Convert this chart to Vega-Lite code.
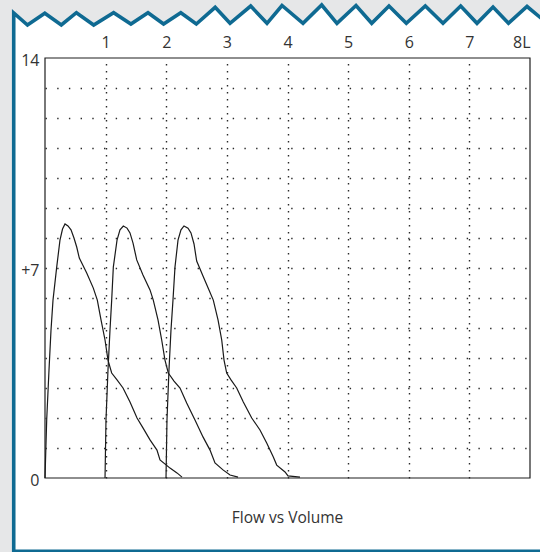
{
  "$schema": "https://vega.github.io/schema/vega-lite/v6.json",
  "width": 485,
  "height": 420,
  "autosize": {"type": "none"},
  "padding": {"left": 45, "top": 58, "right": 10, "bottom": 74},
  "background": "#e6e7e8",
  "config": {"view": {"stroke": null}},
  "datasets": {
    "frame": [
      {"i": 0, "v": 8.2, "f": -2.44},
      {"i": 1, "v": -0.516, "f": -2.44},
      {"i": 2, "v": -0.516, "f": 15.5},
      {"i": 3, "v": -0.289, "f": 15.1},
      {"i": 4, "v": -0.003, "f": 15.49},
      {"i": 5, "v": 0.269, "f": 15.1},
      {"i": 6, "v": 0.518, "f": 15.51},
      {"i": 7, "v": 0.803, "f": 15.1},
      {"i": 8, "v": 1.132, "f": 15.51},
      {"i": 9, "v": 1.417, "f": 15.133},
      {"i": 10, "v": 1.699, "f": 15.51},
      {"i": 11, "v": 1.956, "f": 15.133},
      {"i": 12, "v": 2.24, "f": 15.51},
      {"i": 13, "v": 2.496, "f": 15.133},
      {"i": 14, "v": 2.807, "f": 15.69},
      {"i": 15, "v": 3.052, "f": 15.157},
      {"i": 16, "v": 3.393, "f": 15.733},
      {"i": 17, "v": 3.662, "f": 15.157},
      {"i": 18, "v": 3.909, "f": 15.75},
      {"i": 19, "v": 4.256, "f": 15.157},
      {"i": 20, "v": 4.564, "f": 15.767},
      {"i": 21, "v": 4.816, "f": 15.157},
      {"i": 22, "v": 5.13, "f": 15.75},
      {"i": 23, "v": 5.389, "f": 15.157},
      {"i": 24, "v": 5.674, "f": 15.733},
      {"i": 25, "v": 5.96, "f": 15.157},
      {"i": 26, "v": 6.273, "f": 15.733},
      {"i": 27, "v": 6.565, "f": 15.157},
      {"i": 28, "v": 6.857, "f": 15.733},
      {"i": 29, "v": 7.126, "f": 15.157},
      {"i": 30, "v": 7.39, "f": 15.7},
      {"i": 31, "v": 7.645, "f": 15.157},
      {"i": 32, "v": 7.951, "f": 15.717},
      {"i": 33, "v": 8.2, "f": 15.3}
    ],
    "flow": [
      {"s": "A", "v": 0, "f": 0},
      {"s": "A", "v": 0.028, "f": 1.93},
      {"s": "A", "v": 0.066, "f": 3.6},
      {"s": "A", "v": 0.099, "f": 4.93},
      {"s": "A", "v": 0.132, "f": 5.93},
      {"s": "A", "v": 0.193, "f": 7.03},
      {"s": "A", "v": 0.247, "f": 7.93},
      {"s": "A", "v": 0.289, "f": 8.3},
      {"s": "A", "v": 0.33, "f": 8.47},
      {"s": "A", "v": 0.379, "f": 8.4},
      {"s": "A", "v": 0.429, "f": 8.27},
      {"s": "A", "v": 0.478, "f": 8.0},
      {"s": "A", "v": 0.523, "f": 7.7},
      {"s": "A", "v": 0.566, "f": 7.33},
      {"s": "A", "v": 0.688, "f": 6.83},
      {"s": "A", "v": 0.797, "f": 6.33},
      {"s": "A", "v": 0.863, "f": 5.93},
      {"s": "A", "v": 0.924, "f": 5.27},
      {"s": "A", "v": 0.99, "f": 4.6},
      {"s": "A", "v": 1.039, "f": 3.93},
      {"s": "A", "v": 1.1, "f": 3.5},
      {"s": "A", "v": 1.188, "f": 3.27},
      {"s": "A", "v": 1.287, "f": 3.0},
      {"s": "A", "v": 1.402, "f": 2.53},
      {"s": "A", "v": 1.518, "f": 2.0},
      {"s": "A", "v": 1.616, "f": 1.67},
      {"s": "A", "v": 1.732, "f": 1.27},
      {"s": "A", "v": 1.847, "f": 0.93},
      {"s": "A", "v": 1.897, "f": 0.6},
      {"s": "A", "v": 2.062, "f": 0.33},
      {"s": "A", "v": 2.177, "f": 0.17},
      {"s": "A", "v": 2.26, "f": 0.03},
      {"s": "B", "v": 0.99, "f": 0},
      {"s": "B", "v": 1.006, "f": 1.93},
      {"s": "B", "v": 1.039, "f": 3.6},
      {"s": "B", "v": 1.072, "f": 4.93},
      {"s": "B", "v": 1.1, "f": 5.93},
      {"s": "B", "v": 1.127, "f": 7.03},
      {"s": "B", "v": 1.188, "f": 7.93},
      {"s": "B", "v": 1.237, "f": 8.27},
      {"s": "B", "v": 1.292, "f": 8.4},
      {"s": "B", "v": 1.353, "f": 8.33},
      {"s": "B", "v": 1.402, "f": 8.17},
      {"s": "B", "v": 1.452, "f": 7.83},
      {"s": "B", "v": 1.513, "f": 7.27},
      {"s": "B", "v": 1.616, "f": 6.77},
      {"s": "B", "v": 1.732, "f": 6.27},
      {"s": "B", "v": 1.786, "f": 5.93},
      {"s": "B", "v": 1.864, "f": 5.27},
      {"s": "B", "v": 1.925, "f": 4.6},
      {"s": "B", "v": 1.979, "f": 3.93},
      {"s": "B", "v": 2.034, "f": 3.5},
      {"s": "B", "v": 2.128, "f": 3.23},
      {"s": "B", "v": 2.227, "f": 3.0},
      {"s": "B", "v": 2.337, "f": 2.5},
      {"s": "B", "v": 2.474, "f": 1.93},
      {"s": "B", "v": 2.606, "f": 1.37},
      {"s": "B", "v": 2.722, "f": 0.93},
      {"s": "B", "v": 2.804, "f": 0.5},
      {"s": "B", "v": 2.936, "f": 0.27},
      {"s": "B", "v": 3.052, "f": 0.1},
      {"s": "B", "v": 3.184, "f": 0.03},
      {"s": "C", "v": 1.996, "f": 0},
      {"s": "C", "v": 2.012, "f": 1.93},
      {"s": "C", "v": 2.045, "f": 3.6},
      {"s": "C", "v": 2.078, "f": 4.93},
      {"s": "C", "v": 2.111, "f": 5.93},
      {"s": "C", "v": 2.144, "f": 7.03},
      {"s": "C", "v": 2.194, "f": 7.93},
      {"s": "C", "v": 2.243, "f": 8.27},
      {"s": "C", "v": 2.293, "f": 8.4},
      {"s": "C", "v": 2.359, "f": 8.33},
      {"s": "C", "v": 2.408, "f": 8.17},
      {"s": "C", "v": 2.458, "f": 7.8},
      {"s": "C", "v": 2.502, "f": 7.23},
      {"s": "C", "v": 2.606, "f": 6.73},
      {"s": "C", "v": 2.705, "f": 6.27},
      {"s": "C", "v": 2.776, "f": 5.93},
      {"s": "C", "v": 2.854, "f": 5.27},
      {"s": "C", "v": 2.915, "f": 4.6},
      {"s": "C", "v": 2.953, "f": 3.93},
      {"s": "C", "v": 2.997, "f": 3.5},
      {"s": "C", "v": 3.068, "f": 3.27},
      {"s": "C", "v": 3.162, "f": 3.0},
      {"s": "C", "v": 3.271, "f": 2.53},
      {"s": "C", "v": 3.41, "f": 2.0},
      {"s": "C", "v": 3.546, "f": 1.6},
      {"s": "C", "v": 3.657, "f": 1.17},
      {"s": "C", "v": 3.766, "f": 0.7},
      {"s": "C", "v": 3.822, "f": 0.43},
      {"s": "C", "v": 3.959, "f": 0.2},
      {"s": "C", "v": 4.008, "f": 0.07},
      {"s": "C", "v": 4.206, "f": 0.03}
    ]
  },
  "encoding": {
    "x": {"type": "quantitative", "scale": {"domain": [0, 8], "nice": false, "zero": false},
      "axis": {"orient": "top", "values": [1, 2, 3, 4, 5, 6, 7, 8], "format": "d", "labelExpr": "datum.value == 8 ? '8L' : datum.label", "title": null, "ticks": false, "domain": false, "grid": true, "gridDash": [1.4, 5.6], "gridColor": "#2a2a2a", "gridWidth": 1.4, "gridOpacity": {"condition": {"test": "datum.value == 8", "value": 0}, "value": 1}, "labelFont": "Open Sans", "labelFontSize": 16, "labelColor": "#333333", "labelPadding": 8, "labelOverlap": false, "zindex": 1}},
    "y": {"type": "quantitative", "scale": {"domain": [0, 14], "nice": false},
      "axis": {"values": [0, 1, 2, 3, 4, 5, 6, 7, 8, 9, 10, 11, 12, 13, 14], "format": "d", "labelExpr": "datum.value == 14 ? '14' : datum.value == 7 ? '+7' : datum.value == 0 ? '0' : ''", "title": null, "ticks": false, "domain": false, "grid": true, "gridDash": [1.4, 10.3], "gridColor": "#2a2a2a", "gridWidth": 1.4, "gridOpacity": {"condition": {"test": "datum.value == 0 || datum.value == 14", "value": 0}, "value": 1}, "labelFont": "Open Sans", "labelFontSize": 16, "labelColor": "#333333", "labelPadding": 6, "labelOffset": 2, "labelOverlap": false, "zindex": 1}}
  },
  "layer": [
    {
      "data": {"name": "frame"},
      "transform": [{"filter": "datum.i >= 2"}],
      "mark": {"type": "area", "fill": "white", "opacity": 1, "stroke": null},
      "encoding": {
        "x": {"field": "v", "type": "quantitative"},
        "y": {"field": "f", "type": "quantitative"},
        "y2": {"datum": -2.5}
      }
    },
    {
      "data": {"name": "frame"},
      "mark": {"type": "line", "color": "#0f6a92", "strokeWidth": 3.6, "strokeJoin": "miter", "strokeCap": "butt"},
      "encoding": {
        "x": {"field": "v", "type": "quantitative"},
        "y": {"field": "f", "type": "quantitative"},
        "order": {"field": "i"}
      }
    },
    {
      "data": {"values": [{"a": 1}]},
      "mark": {"type": "rect", "fill": null, "fillOpacity": 0, "stroke": "#1f1f1f", "strokeWidth": 1.2},
      "encoding": {
        "x": {"datum": 0, "type": "quantitative"},
        "x2": {"datum": 8},
        "y": {"datum": 0, "type": "quantitative"},
        "y2": {"datum": 14}
      }
    },
    {
      "data": {"name": "flow"},
      "mark": {"type": "line", "color": "#1a1a1a", "strokeWidth": 1.2},
      "encoding": {
        "x": {"field": "v", "type": "quantitative"},
        "y": {"field": "f", "type": "quantitative"},
        "detail": {"field": "s"}
      }
    },
    {
      "data": {"values": [{"t": "Flow vs Volume"}]},
      "mark": {"type": "text", "font": "Open Sans", "fontSize": 15.5, "color": "#333333", "align": "center", "baseline": "middle"},
      "encoding": {
        "x": {"datum": 4, "type": "quantitative"},
        "y": {"datum": -1.33, "type": "quantitative"},
        "text": {"field": "t"}
      }
    }
  ]
}
